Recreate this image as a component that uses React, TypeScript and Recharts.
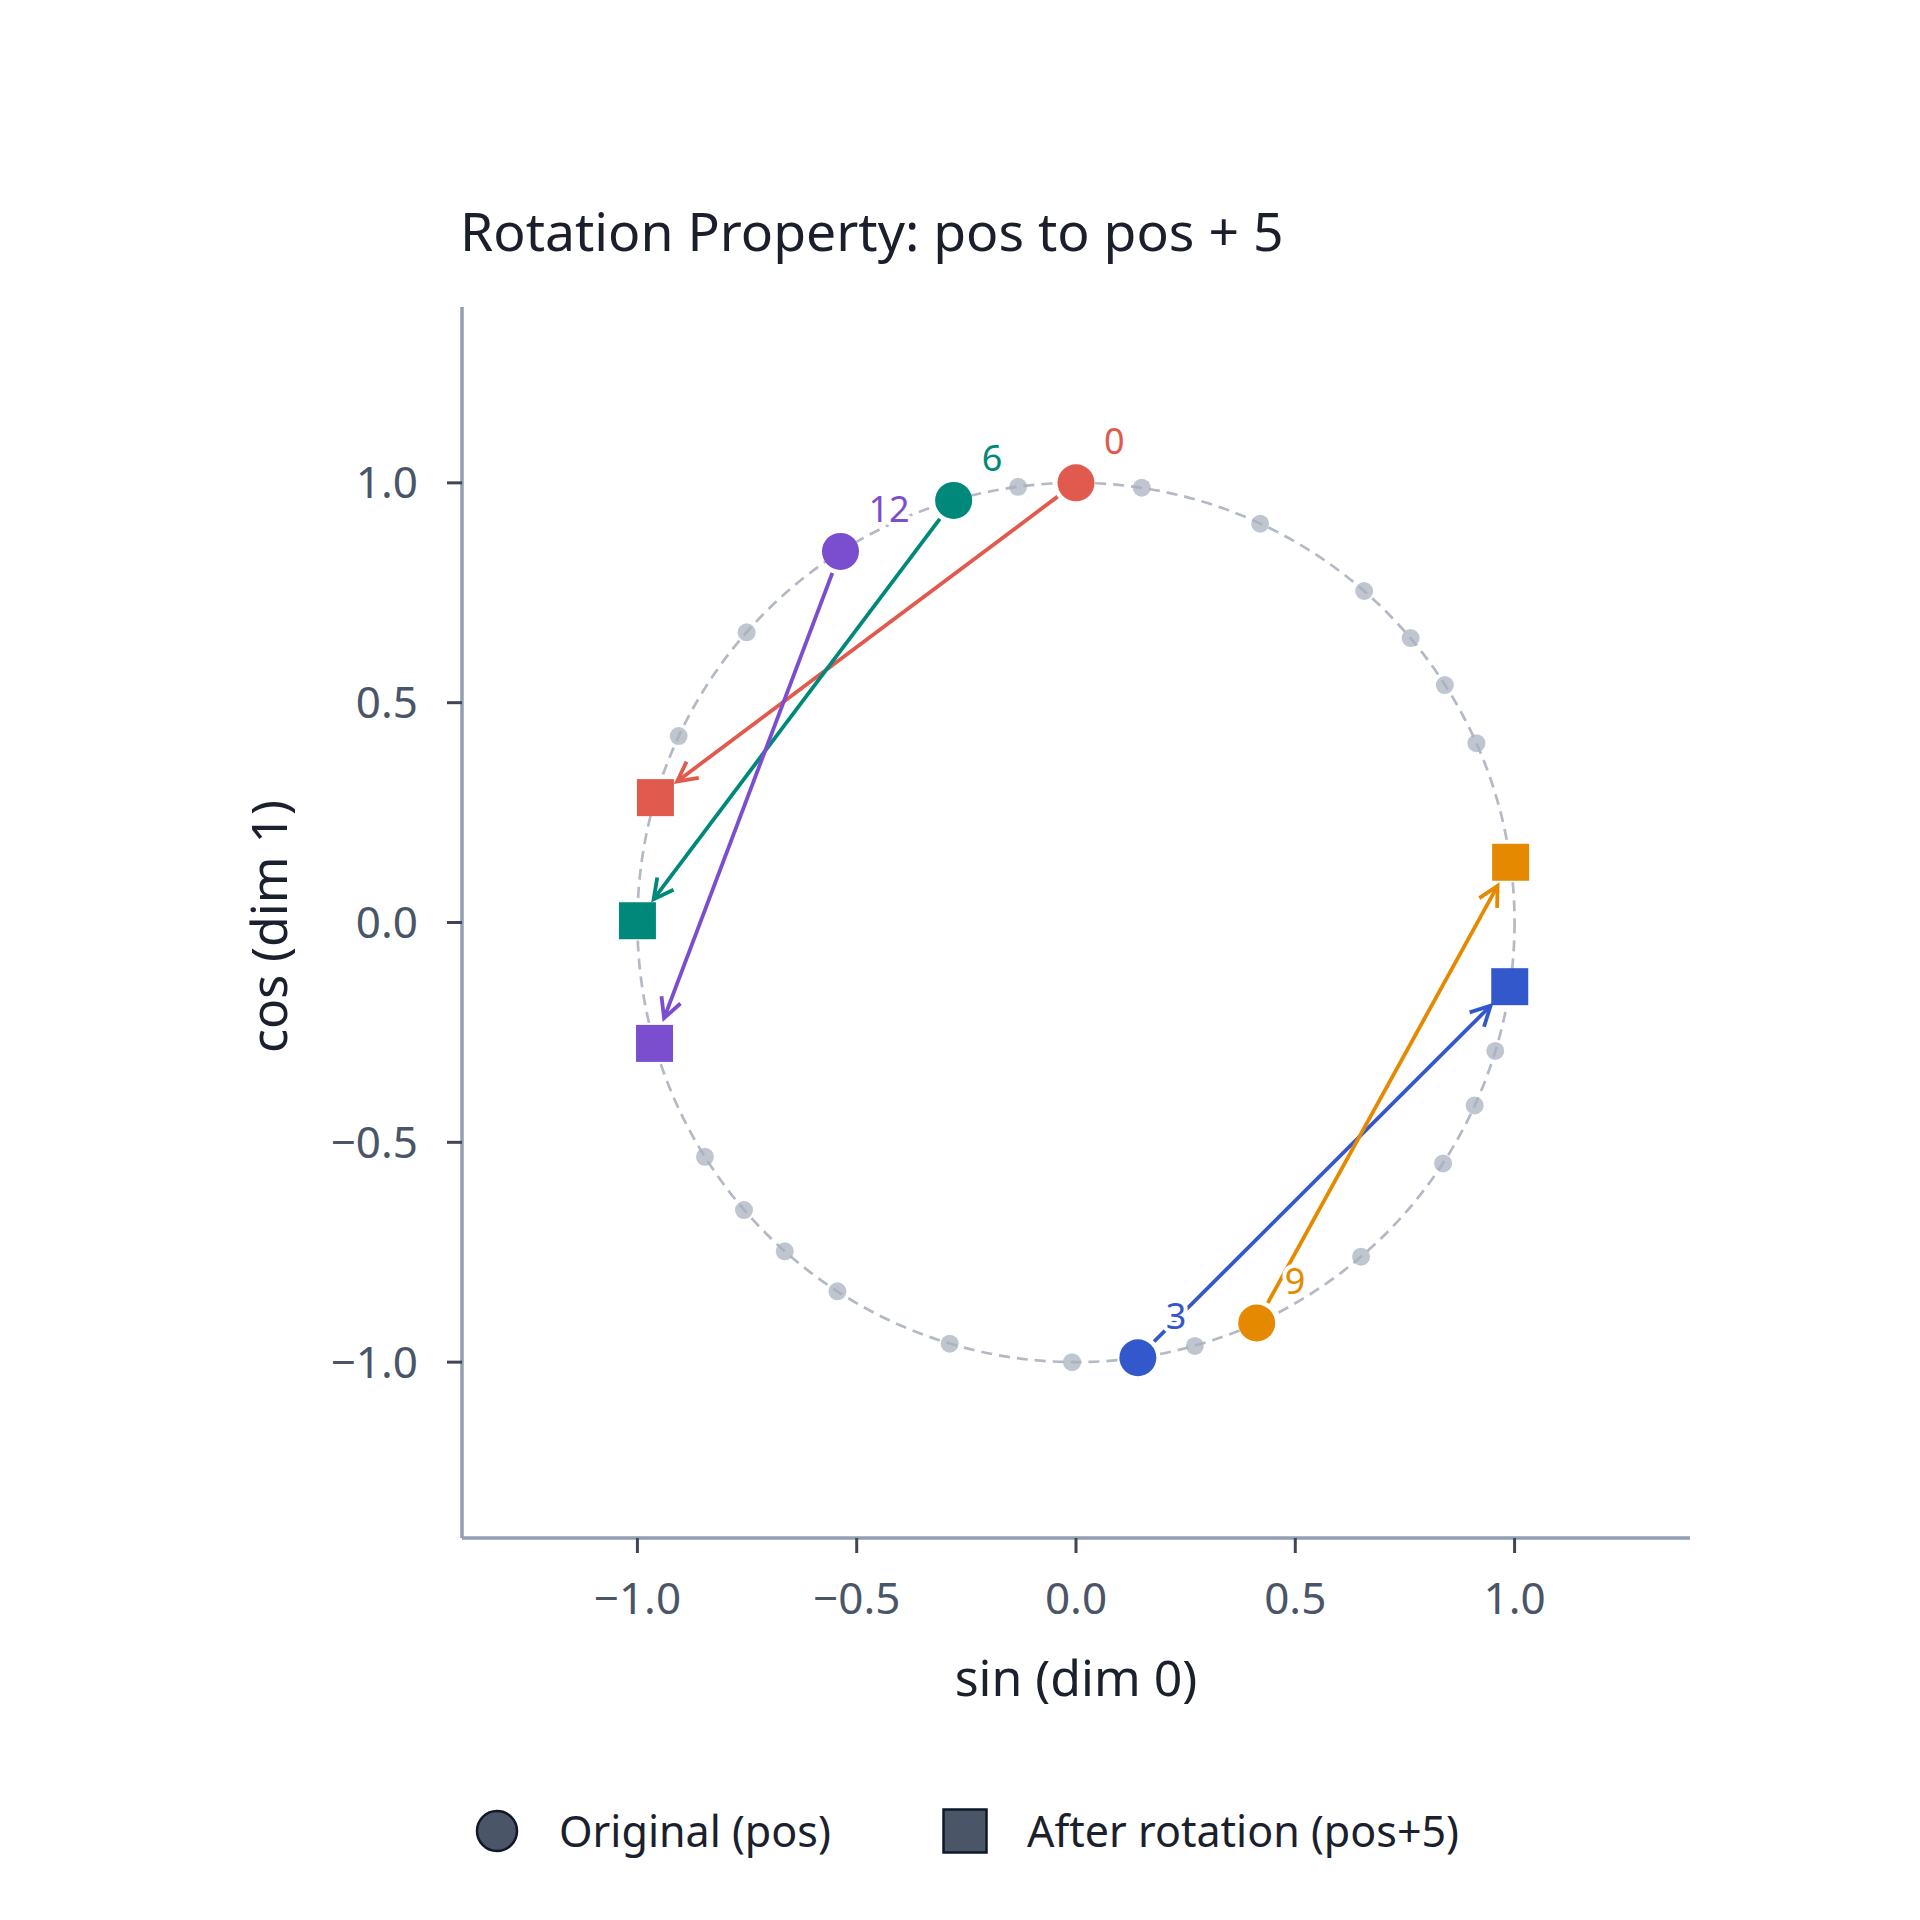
import React from "react";
import { ComposedChart, ReferenceArea, ReferenceLine, Scatter, XAxis, YAxis } from "recharts";

// positions on the ring, with (sin, cos)
const positions = [
  0, 1, 2, 3, 4, 5, 6, 7, 8, 9, 10, 11, 12, 13, 14,
  15, 16, 17, 18, 19, 20, 21, 22, 23, 24, 25, 26, 27, 28, 29,
];
const sinDim0 = [
  0.0, 0.841, 0.909, 0.141, -0.757, -0.959, -0.279, 0.657, 0.989, 0.412,
  -0.544, -1.0, -0.537, 0.42, 0.991, 0.65, -0.288, -0.961, -0.751, 0.15,
  0.913, 0.837, -0.009, -0.846, -0.906, -0.132, 0.763, 0.956, 0.271, -0.664,
];
const cosDim1 = [
  1.0, 0.54, -0.416, -0.99, -0.654, 0.284, 0.96, 0.754, -0.146, -0.911,
  -0.839, 0.004, 0.844, 0.907, 0.137, -0.76, -0.958, -0.275, 0.66, 0.989,
  0.408, -0.548, -1.0, -0.533, 0.424, 0.991, 0.647, -0.292, -0.963, -0.748,
];

const highlighted = [0, 3, 6, 9, 12];
const highlightColors = ["#e05a4d", "#3358cc", "#00897b", "#e58a00", "#7b4dcf"];
const shift = 5;

const axisTicks = [-1, -0.5, 0, 0.5, 1];
const axisDomain = [-1.4, 1.4];
const ringRadius = 1;

const ringPoints = positions.map((p) => ({ pos: p, x: sinDim0[p], y: cosDim1[p] }));
const originals = highlighted.map((p, i) => ({
  pos: p,
  x: sinDim0[p],
  y: cosDim1[p],
  color: highlightColors[i],
}));
const rotated = highlighted.map((p, i) => ({
  pos: p + shift,
  x: sinDim0[p + shift],
  y: cosDim1[p + shift],
  color: highlightColors[i],
}));

const fmt = (v: number) => v.toFixed(1).replace("-", "\u2212");

const RingShape = (p: any) => (
  <ellipse
    cx={p.x + p.width / 2}
    cy={p.y + p.height / 2}
    rx={p.width / 2}
    ry={p.height / 2}
    fill="none"
    stroke="#b3bac5"
    strokeWidth={2.7}
    strokeDasharray="11 7"
  />
);

const makeArrow = (color: string) => (p: any) => {
  const x1 = Number(p.x1), y1 = Number(p.y1), x2 = Number(p.x2), y2 = Number(p.y2);
  const dx = x2 - x1;
  const dy = y2 - y1;
  const len = Math.hypot(dx, dy) || 1;
  const ux = dx / len;
  const uy = dy / len;
  const sx = x1 + ux * 23;
  const sy = y1 + uy * 23;
  const ex = x2 - ux * 27;
  const ey = y2 - uy * 27;
  const ang = Math.atan2(uy, ux);
  const head = 22;
  const spread = 0.48;
  const ax = ex - head * Math.cos(ang - spread);
  const ay = ey - head * Math.sin(ang - spread);
  const bx = ex - head * Math.cos(ang + spread);
  const by = ey - head * Math.sin(ang + spread);
  return (
    <g>
      <line x1={sx} y1={sy} x2={ex} y2={ey} stroke={color} strokeWidth={3.8} />
      <polyline
        points={`${ax},${ay} ${ex},${ey} ${bx},${by}`}
        fill="none"
        stroke={color}
        strokeWidth={3.8}
        strokeLinejoin="miter"
      />
    </g>
  );
};

const GrayDot = (p: any) => <circle cx={p.cx} cy={p.cy} r={9} fill="#a7b0be" fillOpacity={0.72} />;

const RotatedSquare = (p: any) => (
  <rect x={p.cx - 18.5} y={p.cy - 18.5} width={37} height={37} fill={p.payload.color} />
);

const OriginalDot = (p: any) => (
  <g>
    <circle cx={p.cx} cy={p.cy} r={18.5} fill={p.payload.color} />
    <text
      x={p.cx + 28}
      y={p.cy - 29}
      fill={p.payload.color}
      fontSize={36}
      stroke="#ffffff"
      strokeWidth={8}
      strokeLinejoin="round"
      paintOrder="stroke"
    >
      {p.payload.pos}
    </text>
  </g>
);

const XLabel = (props: any) => {
  const vb = props.viewBox;
  return (
    <text x={vb.x + vb.width / 2} y={vb.y + 158} textAnchor="middle" fontSize={50} fill="#1a202c">
      sin (dim 0)
    </text>
  );
};

const YLabel = (props: any) => {
  const vb = props.viewBox;
  const x = vb.x - 75;
  const y = vb.y + vb.height / 2 + 4;
  return (
    <text x={x} y={y} textAnchor="middle" fontSize={50} fill="#1a202c" transform={`rotate(-90, ${x}, ${y})`}>
      cos (dim 1)
    </text>
  );
};

export default function App() {
  return (
    <div style={{ position: "relative", width: 1904, height: 1904, fontFamily: "'Noto Sans', sans-serif", background: "#fff" }}>
      <div
        style={{
          position: "absolute",
          left: 452,
          top: 196,
          fontSize: 53.5,
          lineHeight: "53px",
          color: "#1a1f2b",
          whiteSpace: "nowrap",
        }}
      >
        Rotation Property: pos to pos + 5
      </div>

      <ComposedChart
        width={1904}
        height={1904}
        margin={{ top: 299, right: 222, bottom: 314, left: 354 }}
        style={{ fontFamily: "'Noto Sans', sans-serif" }}
      >
        <XAxis
          type="number"
          dataKey="x"
          domain={axisDomain}
          ticks={axisTicks}
          interval={0}
          allowDataOverflow
          height={60}
          tickFormatter={fmt}
          tick={{ fontSize: 44, fill: "#4a5568" }}
          tickSize={15}
          tickMargin={30}
          axisLine={{ stroke: "#929eb2", strokeWidth: 3.5 }}
          tickLine={{ stroke: "#3f4757", strokeWidth: 3 }}
          label={XLabel}
        />
        <YAxis
          type="number"
          dataKey="y"
          domain={axisDomain}
          ticks={axisTicks}
          interval={0}
          allowDataOverflow
          width={100}
          tickFormatter={fmt}
          tick={{ fontSize: 44, fill: "#4a5568" }}
          tickSize={15}
          tickMargin={29}
          axisLine={{ stroke: "#929eb2", strokeWidth: 3.5 }}
          tickLine={{ stroke: "#3f4757", strokeWidth: 3 }}
          label={YLabel}
        />
        <ReferenceArea
          x1={-ringRadius}
          x2={ringRadius}
          y1={-ringRadius}
          y2={ringRadius}
          shape={RingShape}
          ifOverflow="visible"
        />
        <Scatter data={ringPoints} shape={GrayDot} isAnimationActive={false} />
        {originals.map((o, i) => (
          <ReferenceLine
            key={o.pos}
            segment={[
              { x: o.x, y: o.y },
              { x: rotated[i].x, y: rotated[i].y },
            ]}
            shape={makeArrow(o.color)}
            ifOverflow="visible"
          />
        ))}
        <Scatter data={rotated} shape={RotatedSquare} isAnimationActive={false} />
        <Scatter data={originals} shape={OriginalDot} isAnimationActive={false} />
      </ComposedChart>

      <svg style={{ position: "absolute", left: 466, top: 1801 }} width={46} height={46}>
        <circle cx={23} cy={22} r={20} fill="#4a5568" stroke="#111827" strokeWidth={2.5} />
      </svg>
      <div style={{ position: "absolute", left: 551, top: 1801, fontSize: 43, lineHeight: "43px", color: "#1a202c", whiteSpace: "nowrap" }}>
        Original (pos)
      </div>
      <svg style={{ position: "absolute", left: 934, top: 1800 }} width={46} height={46}>
        <rect x={1.5} y={1.5} width={43} height={43} fill="#4a5568" stroke="#111827" strokeWidth={2.5} />
      </svg>
      <div style={{ position: "absolute", left: 1019, top: 1801, fontSize: 43, lineHeight: "43px", color: "#1a202c", whiteSpace: "nowrap" }}>
        After rotation (pos+5)
      </div>
    </div>
  );
}
